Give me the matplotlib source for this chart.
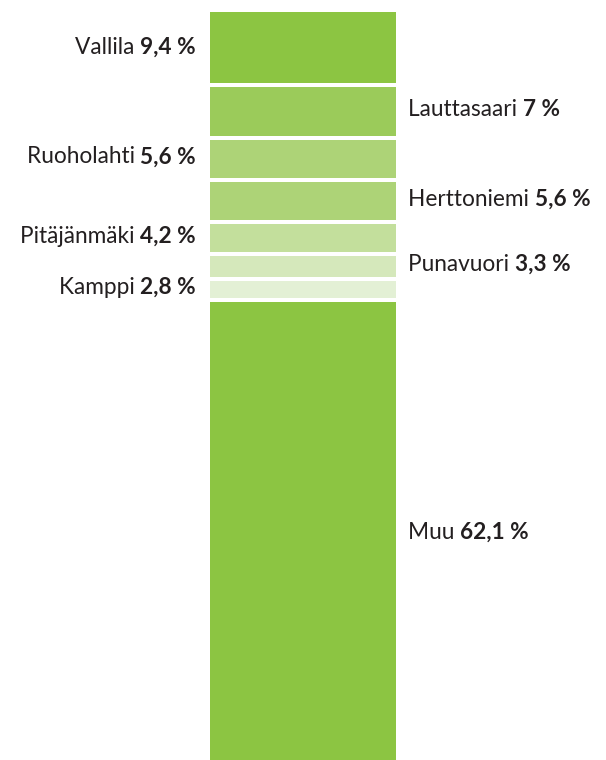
import matplotlib
matplotlib.use('Agg')
import matplotlib.pyplot as plt
import numpy as np

# alueet ylhäältä alas
alueet = ["Vallila", "Lauttasaari", "Ruoholahti", "Herttoniemi",
          "Pitäjänmäki", "Punavuori", "Kamppi", "Muu"]
osuudet = [9.4, 7.0, 5.6, 5.6, 4.2, 3.3, 2.8, 62.1]
osuus_tekstit = ["9,4 %", "7 %", "5,6 %", "5,6 %", "4,2 %", "3,3 %", "2,8 %", "62,1 %"]
puolet = ["vasen", "oikea", "vasen", "oikea", "vasen", "oikea", "vasen", "oikea"]
varit = ["#8cc542", "#9bcb5a", "#add377", "#add377",
         "#c3df9c", "#d5e8bb", "#e3f0d5", "#8cc542"]

plt.rcParams['font.family'] = ['Lato', 'DejaVu Sans']
tekstivari = "#231f20"
koko = 16.3

W, H = 606, 760
fig = plt.figure(figsize=(W / 100, H / 100), dpi=100)
ax = fig.add_axes([0, 0, 1, 1])

px_per_unit = 7.55   # pikseliä per prosenttiyksikkö
ylä = 12             # palkin yläreuna pikseleinä
rako = 4 / px_per_unit

alut = np.concatenate([[0], np.cumsum(osuudet)[:-1]])
for i, (alku, arvo, vari) in enumerate(zip(alut, osuudet, varit)):
    a = alku + (rako if i > 0 else 0)
    ax.bar(0, arvo - (a - alku), bottom=a, width=1, color=vari, linewidth=0)

# palkki 209.5 ... 396 px
leveys_px = 396 - 209.5
ax.set_xlim(-0.5 - 209.5 / leveys_px, 0.5 + (W - 396) / leveys_px)
ax.set_ylim((H - ylä) / px_per_unit, -ylä / px_per_unit)
ax.axis('off')

for alue, alku, arvo, teksti, puoli in zip(alueet, alut, osuudet, osuus_tekstit, puolet):
    y = alku + arvo / 2
    if puoli == "vasen":
        t = ax.annotate(teksti, xy=(-0.5, y), xytext=(-9.7, 0), textcoords='offset points',
                        ha='right', va='center', fontsize=koko, fontweight='bold', color=tekstivari)
        ax.annotate(alue + " ", xy=(0, 0), xycoords=t, ha='right', va='bottom',
                    fontsize=koko, color=tekstivari)
    else:
        t = ax.annotate(alue + " ", xy=(0.5, y), xytext=(8.6, 0), textcoords='offset points',
                        ha='left', va='center', fontsize=koko, color=tekstivari)
        ax.annotate(teksti, xy=(1, 0), xycoords=t, ha='left', va='bottom',
                    fontsize=koko, fontweight='bold', color=tekstivari)

fig.savefig("out.png", dpi=100)
plt.close(fig)
